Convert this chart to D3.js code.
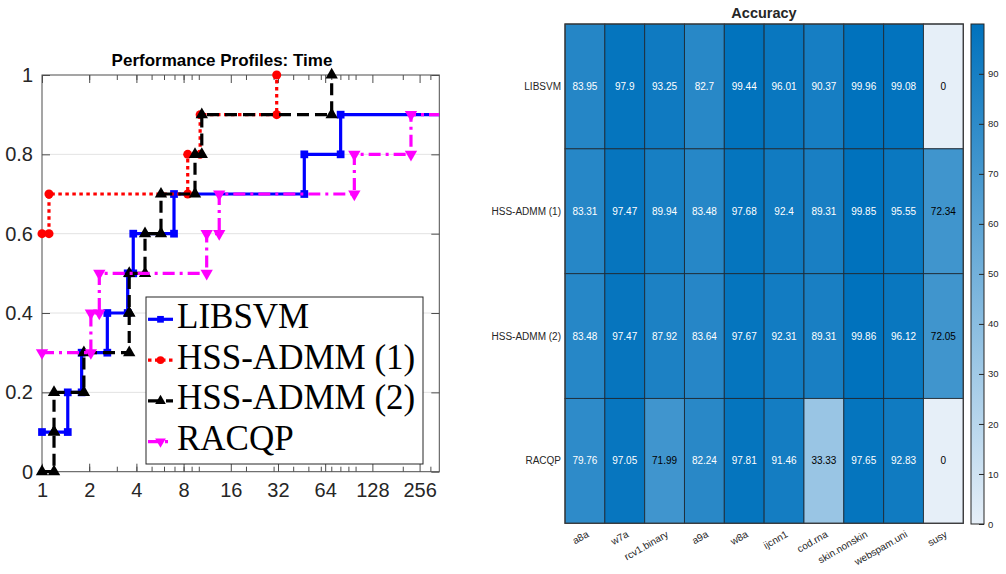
<!DOCTYPE html>
<html>
<head>
<meta charset="utf-8">
<script src="https://cdn.jsdelivr.net/npm/d3@7"></script>
<style>
  body { margin: 0; background: #fff; }
  svg { display: block; }
</style>
</head>
<body>
<div id="chart"></div>
<script>
// ---- performance profile data (tau where each step happens, rho after the step)
const solvers = ['LIBSVM', 'HSS-ADMM (1)', 'HSS-ADMM (2)', 'RACQP']
const libsvmTau = [1, 1.46, 1.79, 2.61, 3.52, 3.82, 6.95, 47.1, 80.3]
const libsvmRho = [0.1, 0.2, 0.3, 0.4, 0.5, 0.6, 0.7, 0.8, 0.9]
const hss1Tau = [1, 1.108, 8.5, 10.2, 31.4]
const hss1Rho = [0.6, 0.7, 0.8, 0.9, 1.0]
const hss2Tau = [1, 1.193, 1.193, 1.85, 3.6, 3.6, 4.54, 5.74, 9.46, 10.45, 70.4]
const hss2Rho = [0, 0.1, 0.2, 0.3, 0.4, 0.5, 0.6, 0.7, 0.8, 0.9, 1.0]
const racqpTau = [1, 2.05, 2.32, 11.23, 13.5, 98.2, 225.6]
const racqpRho = [0.3, 0.4, 0.5, 0.6, 0.7, 0.8, 0.9]
const tauMax = 342
const xTicks = [1, 2, 4, 8, 16, 32, 64, 128, 256]
const yTicks = [0, 0.2, 0.4, 0.6, 0.8, 1]

// ---- accuracy heatmap data
const datasets = ['a8a', 'w7a', 'rcv1.binary', 'a9a', 'w8a', 'ijcnn1', 'cod.rna', 'skin.nonskin', 'webspam.uni', 'susy']
const accLibsvm = [83.95, 97.9, 93.25, 82.7, 99.44, 96.01, 90.37, 99.96, 99.08, 0]
const accHss1 = [83.31, 97.47, 89.94, 83.48, 97.68, 92.4, 89.31, 99.85, 95.55, 72.34]
const accHss2 = [83.48, 97.47, 87.92, 83.64, 97.67, 92.31, 89.31, 99.86, 96.12, 72.05]
const accRacqp = [79.76, 97.05, 71.99, 82.24, 97.81, 91.46, 33.33, 97.65, 92.83, 0]
const cbTicks = [0, 10, 20, 30, 40, 50, 60, 70, 80, 90]

const W = 1006, H = 574
const svg = d3.select('#chart').append('svg').attr('width', W).attr('height', H)
  .style('font-family', '"Liberation Sans", Arial, sans-serif')

// ================= left: performance profiles =================
const x = d3.scaleLog().base(2).domain([1, tauMax]).range([42, 439.3])
const y = d3.scaleLinear().domain([0, 1]).range([471.7, 75])
const axColor = '#4d4d4d'

// grid
svg.append('g').selectAll('line')
  .data(yTicks.filter(d => d > 0 && d < 1))
  .join('line')
  .attr('x1', x.range()[0]).attr('x2', x.range()[1])
  .attr('y1', d => y(d)).attr('y2', d => y(d))
  .attr('stroke', '#e3e3e3')

// minor ticks (base-10 style, like MATLAB log axes)
const minor = []
for (const dec of [1, 10, 100]) for (let k = 2; k <= 9; k++) if (k * dec < tauMax) minor.push(k * dec)
minor.push(10, 100)

function styleAxis(g) {
  g.select('.domain').remove()
  g.selectAll('line').attr('stroke', axColor)
  g.selectAll('text').attr('fill', '#262626')
}

const gx = svg.append('g').attr('transform', `translate(0,${y(0)})`)
  .call(d3.axisBottom(x).tickValues(xTicks).tickFormat(d3.format('d')).tickSize(-8).tickPadding(11))
gx.call(styleAxis).selectAll('text').style('font-size', '20px')
svg.append('g').attr('transform', `translate(0,${y(0)})`)
  .call(d3.axisBottom(x).tickValues(minor).tickFormat('').tickSize(-5)).call(styleAxis)
svg.append('g').attr('transform', `translate(0,${y(1)})`)
  .call(d3.axisTop(x).tickValues(xTicks).tickFormat('').tickSize(-8)).call(styleAxis)
svg.append('g').attr('transform', `translate(0,${y(1)})`)
  .call(d3.axisTop(x).tickValues(minor).tickFormat('').tickSize(-5)).call(styleAxis)

const gy = svg.append('g').attr('transform', `translate(${x(1)},0)`)
  .call(d3.axisLeft(y).tickValues(yTicks).tickFormat(d => d3.format('')(d)).tickSize(-8).tickPadding(9))
gy.call(styleAxis).selectAll('text').style('font-size', '20px')
svg.append('g').attr('transform', `translate(${x(tauMax)},0)`)
  .call(d3.axisRight(y).tickValues(yTicks).tickFormat('').tickSize(-8)).call(styleAxis)

// box
svg.append('rect')
  .attr('x', x(1)).attr('y', y(1))
  .attr('width', x(tauMax) - x(1)).attr('height', y(0) - y(1))
  .attr('fill', 'none').attr('stroke', axColor)

svg.append('text')
  .attr('x', 222).attr('y', 66)
  .attr('text-anchor', 'middle')
  .style('font-size', '17px').style('font-weight', 'bold')
  .text('Performance Profiles: Time')

svg.append('clipPath').attr('id', 'plot-clip')
  .append('rect')
  .attr('x', x(1)).attr('y', y(1) - 2)
  .attr('width', x(tauMax) - x(1)).attr('height', y(0) - y(1) + 4)

function stairs(tau, rho) {
  const pts = []
  tau.forEach((t, i) => {
    if (i > 0) pts.push([t, rho[i - 1]])
    pts.push([t, rho[i]])
  })
  return pts
}

const series = [
  { name: solvers[0], tau: libsvmTau, rho: libsvmRho, color: '#0000ff', dash: null, symbol: d3.symbolSquare, size: 60, rot: 0 },
  { name: solvers[1], tau: hss1Tau, rho: hss1Rho, color: '#ff0000', dash: '3.5,3.5', symbol: d3.symbolCircle, size: 64, rot: 0 },
  { name: solvers[2], tau: hss2Tau, rho: hss2Rho, color: '#000000', dash: '12,6', symbol: d3.symbolTriangle, size: 66, rot: 0 },
  { name: solvers[3], tau: racqpTau, rho: racqpRho, color: '#ff00ff', dash: '12,5,3,5', symbol: d3.symbolTriangle, size: 66, rot: 180 }
]

const line = d3.line().x(d => x(d[0])).y(d => y(d[1]))

series.forEach(s => {
  const pts = stairs(s.tau, s.rho)
  const last = s.rho[s.rho.length - 1]
  const linePts = last < 1 ? pts.concat([[tauMax, last]]) : pts
  const g = svg.append('g')
  g.append('path')
    .attr('d', line(linePts))
    .attr('clip-path', 'url(#plot-clip)')
    .attr('fill', 'none')
    .attr('stroke', s.color)
    .attr('stroke-width', 3.2)
    .attr('stroke-dasharray', s.dash)
  g.selectAll('path.mk')
    .data(pts)
    .join('path')
    .attr('class', 'mk')
    .attr('d', d3.symbol(s.symbol, s.size))
    .attr('transform', d => `translate(${x(d[0])},${y(d[1])}) rotate(${s.rot})`)
    .attr('fill', s.color)
})

// legend
const lg = svg.append('g')
lg.append('rect')
  .attr('x', 146).attr('y', 297).attr('width', 277).attr('height', 167)
  .attr('fill', '#fff').attr('stroke', '#262626')
series.forEach((s, i) => {
  const ly = 319.3 + i * 40.8
  lg.append('line')
    .attr('x1', 148).attr('x2', 173).attr('y1', ly).attr('y2', ly)
    .attr('stroke', s.color).attr('stroke-width', 3.2)
    .attr('stroke-dasharray', s.dash)
  lg.append('path')
    .attr('d', d3.symbol(s.symbol, s.size * 0.75))
    .attr('transform', `translate(160.5,${ly}) rotate(${s.rot})`)
    .attr('fill', s.color)
  lg.append('text')
    .attr('x', 177).attr('y', 328 + i * 40.5)
    .style('font-family', '"Liberation Serif", "DejaVu Serif", serif')
    .style('font-size', '35px')
    .attr('fill', '#000')
    .text(s.name)
})

// ================= right: accuracy heatmap =================
const rows = [accLibsvm, accHss1, accHss2, accRacqp]
const cells = []
rows.forEach((vals, r) => vals.forEach((v, c) => cells.push({ row: solvers[r], col: datasets[c], v })))

const hx = d3.scaleBand().domain(datasets).range([565, 963.3])
const hy = d3.scaleBand().domain(solvers).range([24, 523.3])
const vmax = d3.max(cells, d => d.v)
const color = d3.scaleLinear().domain([0, vmax]).range(['#e6eff8', '#0072bd']).interpolate(d3.interpolateRgb)

svg.append('g').selectAll('rect')
  .data(cells)
  .join('rect')
  .attr('x', d => hx(d.col)).attr('y', d => hy(d.row))
  .attr('width', hx.bandwidth()).attr('height', hy.bandwidth())
  .attr('fill', d => color(d.v))
  .attr('stroke', '#1c2833').attr('stroke-opacity', 0.85).attr('stroke-width', 1)

svg.append('rect')
  .attr('x', 565).attr('y', 24).attr('width', 963.3 - 565).attr('height', 523.3 - 24)
  .attr('fill', 'none').attr('stroke', '#3a3a3a').attr('stroke-width', 1.2)

svg.append('g').selectAll('text')
  .data(cells)
  .join('text')
  .attr('x', d => hx(d.col) + hx.bandwidth() / 2)
  .attr('y', d => hy(d.row) + hy.bandwidth() / 2)
  .attr('dy', '0.35em')
  .attr('text-anchor', 'middle')
  .style('font-size', '10px')
  .attr('fill', d => d.v > 75 ? '#ffffff' : '#000000')
  .text(d => d.v)

// row labels
svg.append('g').selectAll('text')
  .data(solvers)
  .join('text')
  .attr('x', 561)
  .attr('y', d => hy(d) + hy.bandwidth() / 2)
  .attr('dy', '0.35em')
  .attr('text-anchor', 'end')
  .style('font-size', '10px')
  .attr('fill', '#262626')
  .text(d => d)

// column labels
svg.append('g').selectAll('text')
  .data(datasets)
  .join('text')
  .attr('transform', d => `translate(${hx(d) + hx.bandwidth() / 2 + 1},${530}) rotate(-30)`)
  .attr('dy', '0.71em')
  .attr('text-anchor', 'end')
  .style('font-size', '10px')
  .attr('fill', '#262626')
  .text(d => d)

svg.append('text')
  .attr('x', 764).attr('y', 18)
  .attr('text-anchor', 'middle')
  .style('font-size', '14.5px').style('font-weight', 'bold')
  .attr('fill', '#262626')
  .text('Accuracy')

// colorbar
const cb = d3.scaleLinear().domain([0, vmax]).range([524, 24])
const grad = svg.append('defs').append('linearGradient')
  .attr('id', 'cb-grad').attr('x1', 0).attr('y1', 1).attr('x2', 0).attr('y2', 0)
grad.selectAll('stop')
  .data([0, 1])
  .join('stop')
  .attr('offset', d => d)
  .attr('stop-color', d => color(d * vmax))
svg.append('rect')
  .attr('x', 971).attr('y', 24).attr('width', 13).attr('height', 500)
  .attr('fill', 'url(#cb-grad)')
  .attr('stroke', '#262626').attr('stroke-width', 1)
const gcb = svg.append('g').attr('transform', 'translate(984,0)')
  .call(d3.axisRight(cb).tickValues(cbTicks).tickSizeInner(-5).tickSizeOuter(0).tickPadding(4))
gcb.select('.domain').remove()
gcb.selectAll('line').attr('stroke', '#262626')
gcb.selectAll('text').style('font-size', '9.5px').attr('fill', '#262626')
</script>
</body>
</html>
